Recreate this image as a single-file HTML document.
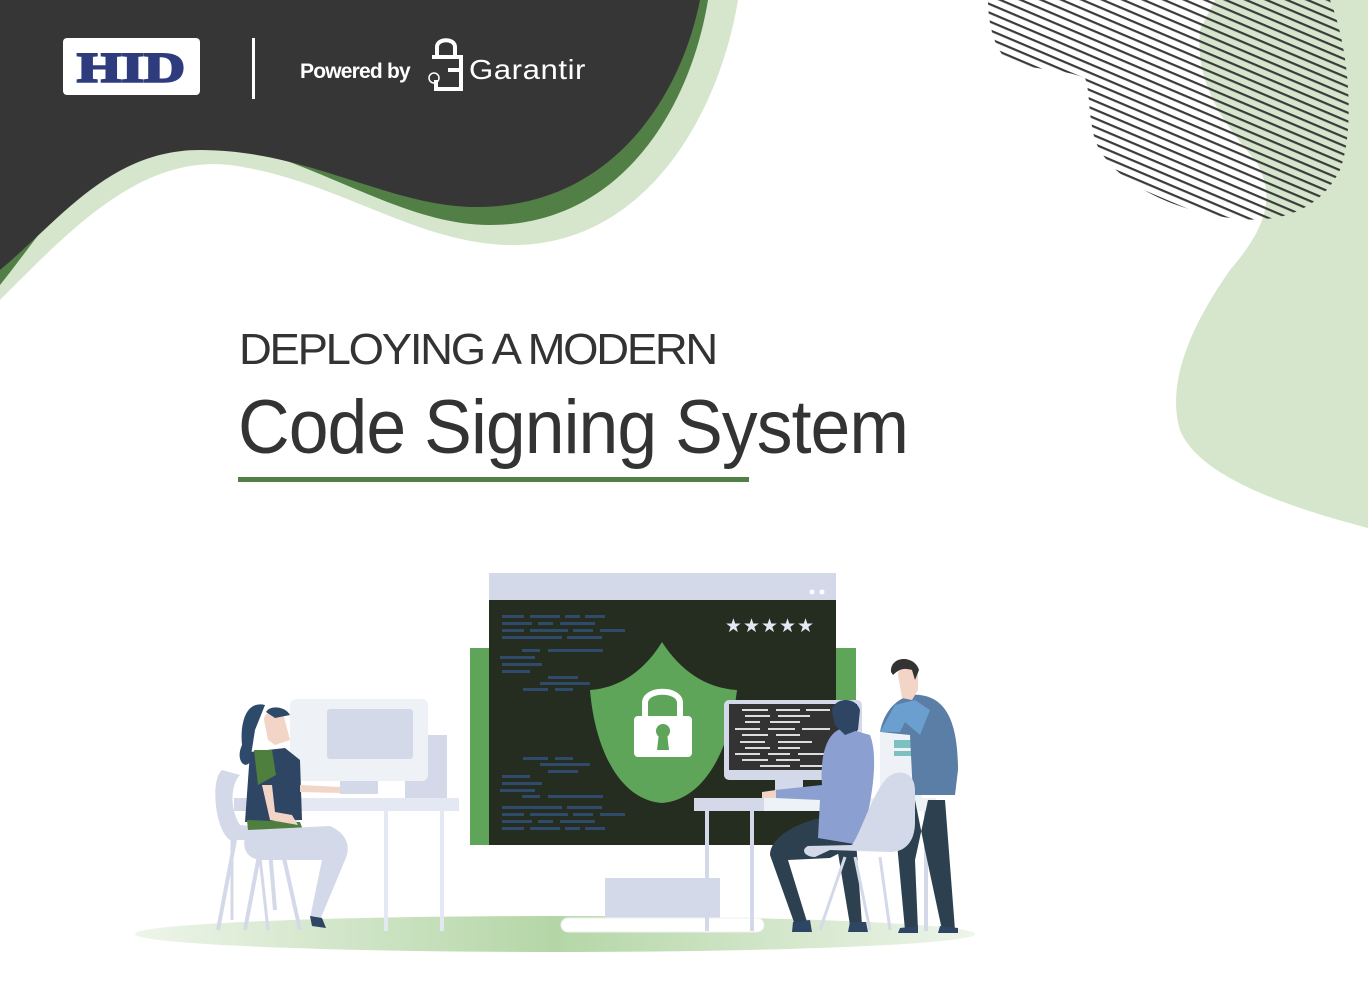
<!DOCTYPE html>
<html><head><meta charset="utf-8"><style>
html,body{margin:0;padding:0;background:#fff;}
body{width:1368px;height:991px;overflow:hidden;position:relative;font-family:"Liberation Sans",sans-serif;}
svg{position:absolute;left:0;top:0;}
</style></head><body>
<svg width="1368" height="991" viewBox="0 0 1368 991" xmlns="http://www.w3.org/2000/svg">
<defs>
<pattern id="hatch" patternUnits="userSpaceOnUse" width="8" height="8" patternTransform="rotate(23)">
<rect width="8" height="8" fill="none"/><rect y="0" width="8" height="2.2" fill="#3a3a3a"/>
</pattern>
<linearGradient id="floor" x1="0" x2="1">
<stop offset="0" stop-color="#eef5ea"/><stop offset="0.5" stop-color="#b4d6a6"/><stop offset="1" stop-color="#eef5ea"/>
</linearGradient>
</defs>
<!-- top-left dark wave -->
<path d="M0,0 L738,0 C720,110 650,240 520,245 C420,248 340,180 230,165 C140,155 70,230 0,300 Z" fill="#d6e6cc"/>
<path d="M0,0 L708,0 C690,110 620,225 490,225 C400,225 320,160 200,135 C110,120 60,210 0,285 Z" fill="#527f45"/>
<path d="M0,0 L700,0 C680,100 610,205 480,207 C390,208 310,150 200,150 C110,150 60,220 0,270 Z" fill="#363636"/>
<!-- HID logo -->
<rect x="63" y="38" width="137" height="57" rx="4" fill="#fff"/>
<text x="131" y="82" text-anchor="middle" font-family="Liberation Serif,serif" font-weight="bold" font-size="42" fill="#2e3c7e" stroke="#2e3c7e" stroke-width="2" textLength="108" lengthAdjust="spacingAndGlyphs">HID</text>
<rect x="252" y="38" width="3" height="61" fill="#fff"/>
<text x="300" y="78" font-family="Liberation Sans,sans-serif" font-weight="bold" font-size="21" fill="#fff" letter-spacing="-0.8">Powered by</text>
<!-- garantir lock icon -->
<path d="M437,57 L437,47 C437,38 455,38 455,47 L455,57" fill="none" stroke="#fff" stroke-width="4"/>
<path d="M432,57 L461,57 L461,89 L436,89 L436,80" fill="none" stroke="#fff" stroke-width="4"/>
<path d="M448,70 L461,70" stroke="#fff" stroke-width="4"/>
<circle cx="434" cy="78" r="5" fill="none" stroke="#fff" stroke-width="1.5"/>
<text x="469" y="79" font-family="Liberation Sans,sans-serif" font-size="28" fill="#fff" letter-spacing="0.5" textLength="117" lengthAdjust="spacingAndGlyphs">Garantir</text>
<!-- right green blob -->
<path d="M1215,0 L1368,0 L1368,528 C1300,510 1200,480 1180,430 C1165,380 1195,320 1230,270 C1260,235 1280,200 1255,160 C1220,120 1195,80 1200,30 Z" fill="#d6e6cc"/>
<!-- hatch blob -->
<path d="M988,0 L1330,0 C1350,50 1355,130 1340,170 C1320,210 1280,225 1230,218 C1170,210 1110,180 1095,140 C1088,115 1090,90 1085,78 C1060,68 1030,70 1010,62 C995,52 988,25 988,0 Z" fill="url(#hatch)"/>
<!-- title -->
<text x="239" y="364" font-family="Liberation Sans,sans-serif" font-size="44" fill="#333" letter-spacing="-2.2" textLength="477" lengthAdjust="spacingAndGlyphs">DEPLOYING A MODERN</text>
<text x="238" y="453" font-family="Liberation Sans,sans-serif" font-size="76" fill="#333" letter-spacing="-1" textLength="670" lengthAdjust="spacingAndGlyphs">Code Signing System</text>
<rect x="238" y="477" width="511" height="5" fill="#527f45"/>
<!-- floor -->
<ellipse cx="555" cy="934" rx="420" ry="18" fill="url(#floor)"/>
<!-- big screen -->
<rect x="470" y="648" width="386" height="197" fill="#5ea459"/>
<rect x="489" y="573" width="347" height="28" fill="#d4d9ea"/>
<circle cx="812" cy="592" r="2.5" fill="#fff"/><circle cx="822" cy="592" r="2.5" fill="#fff"/>
<rect x="489" y="600" width="347" height="245" fill="#252d21"/>
<g fill="#2f4a6b">
<rect x="502" y="615" width="22" height="3"/><rect x="530" y="615" width="30" height="3"/><rect x="565" y="615" width="15" height="3"/><rect x="585" y="615" width="20" height="3"/>
<rect x="502" y="622" width="30" height="3"/><rect x="538" y="622" width="15" height="3"/><rect x="560" y="622" width="35" height="3"/>
<rect x="502" y="629" width="22" height="3"/><rect x="530" y="629" width="38" height="3"/><rect x="573" y="629" width="20" height="3"/><rect x="600" y="629" width="25" height="3"/>
<rect x="502" y="636" width="60" height="3"/><rect x="567" y="636" width="35" height="3"/>
<rect x="522" y="649" width="18" height="3"/><rect x="548" y="649" width="55" height="3"/>
<rect x="500" y="656" width="35" height="3"/><rect x="502" y="663" width="40" height="3"/><rect x="502" y="670" width="28" height="3"/>
<rect x="548" y="676" width="30" height="3"/><rect x="540" y="682" width="50" height="3"/><rect x="523" y="688" width="25" height="3"/><rect x="555" y="688" width="18" height="3"/>
<rect x="523" y="757" width="25" height="3"/><rect x="555" y="757" width="18" height="3"/><rect x="540" y="763" width="50" height="3"/><rect x="548" y="770" width="30" height="3"/>
<rect x="502" y="775" width="28" height="3"/><rect x="502" y="782" width="40" height="3"/><rect x="500" y="789" width="35" height="3"/><rect x="522" y="795" width="18" height="3"/><rect x="548" y="795" width="55" height="3"/>
<rect x="502" y="806" width="60" height="3"/><rect x="567" y="806" width="35" height="3"/>
<rect x="502" y="813" width="22" height="3"/><rect x="530" y="813" width="38" height="3"/><rect x="573" y="813" width="20" height="3"/><rect x="600" y="813" width="25" height="3"/>
<rect x="502" y="820" width="30" height="3"/><rect x="538" y="820" width="15" height="3"/><rect x="560" y="820" width="35" height="3"/>
<rect x="502" y="827" width="22" height="3"/><rect x="530" y="827" width="30" height="3"/><rect x="565" y="827" width="15" height="3"/><rect x="585" y="827" width="20" height="3"/>
</g>
<text x="770" y="632" text-anchor="middle" font-size="19" fill="#e4e8f2" letter-spacing="1">★★★★★</text>
<!-- shield -->
<path d="M662,642 C645,670 620,688 590,690 C595,750 620,800 662,803 C704,800 730,750 737,690 C705,688 680,670 662,642 Z" fill="#5ea459"/>
<path d="M645,718 L645,703 C645,688 680,688 680,703 L680,718" fill="none" stroke="#fff" stroke-width="6"/>
<rect x="634" y="716" width="58" height="41" rx="4" fill="#fff"/>
<circle cx="663" cy="731" r="7" fill="#5ea459"/><path d="M659,733 L667,733 L669,750 L657,750 Z" fill="#5ea459"/>
<!-- base -->
<rect x="605" y="878" width="115" height="40" fill="#d4d9ea"/>
<rect x="561" y="918" width="203" height="14" rx="7" fill="#fff" stroke="#eef2ee"/>
<!-- left monitor -->
<rect x="405" y="735" width="42" height="65" fill="#d4d9ea"/>
<rect x="290" y="699" width="138" height="82" rx="6" fill="#eef2f6"/>
<rect x="327" y="709" width="86" height="50" rx="3" fill="#d4d9ea"/>
<rect x="340" y="781" width="38" height="13" fill="#d4d9ea"/>
<!-- left desk -->
<rect x="234" y="798" width="225" height="13" fill="#e3e8f3"/>
<rect x="234" y="798" width="65" height="13" fill="#d4d9ea"/>
<rect x="384" y="811" width="4" height="120" fill="#e3e8f3"/><rect x="440" y="811" width="4" height="120" fill="#e3e8f3"/>
<!-- woman -->
<path d="M222,770 C210,780 215,830 230,840 L300,840 L300,830 L240,825 C230,810 230,785 240,775 Z" fill="#d4d9ea"/>
<path d="M235,840 L218,930 M262,840 L245,930 M280,840 L300,930" stroke="#d4d9ea" stroke-width="4"/>
<path d="M265,705 C245,700 240,725 242,745 C235,760 245,770 250,762 L255,730 Z" fill="#2e4a6b"/>
<path d="M264,720 C264,712 275,708 283,713 L290,740 L275,745 L268,740 Z" fill="#f3d5c8"/>
<path d="M266,712 C270,705 285,706 290,715 L275,718 Z" fill="#2e4a6b"/>
<path d="M250,752 L285,748 L300,760 L302,820 L245,822 Z" fill="#2e4564"/>
<path d="M247,820 L300,822 L303,830 L248,830 Z" fill="#4f7f3f"/>
<path d="M254,750 L272,750 L276,775 L258,785 Z" fill="#4f7f3f"/>
<path d="M262,785 L270,820 L298,825 L292,815 L275,812 L272,785 Z" fill="#f3d5c8"/>
<path d="M300,785 L340,787 L340,793 L300,792 Z" fill="#f3d5c8"/>
<path d="M248,830 L330,826 C350,835 350,850 345,860 L320,920 L310,918 L322,860 L260,860 C245,858 240,845 248,830 Z" fill="#d4d9ea"/>
<path d="M310,916 L322,918 L326,928 L312,926 Z" fill="#2e4564"/>
<path d="M270,850 L275,910" stroke="#d4d9ea" stroke-width="4"/>
<path d="M258,840 L268,930 M232,830 L232,920" stroke="#d4d9ea" stroke-width="3"/>
<!-- right desk -->
<rect x="694" y="798" width="242" height="13" fill="#eef2f6"/>
<rect x="694" y="798" width="70" height="13" fill="#d4d9ea"/>
<rect x="705" y="811" width="4" height="120" fill="#d4d9ea"/><rect x="750" y="811" width="4" height="120" fill="#d4d9ea"/><rect x="924" y="811" width="4" height="120" fill="#d4d9ea"/>
<!-- right monitor -->
<rect x="724" y="700" width="138" height="80" rx="5" fill="#d4d9ea"/>
<rect x="729" y="704" width="128" height="66" fill="#333"/>
<g stroke="#ddd" stroke-width="2">
<path d="M742,710 H768 M776,710 H800 M806,710 H830 M745,716 H770 M778,716 H810 M745,722 H760 M770,722 H800 M735,729 H760 M768,729 H795 M802,729 H830 M742,735 H768 M776,735 H800 M740,742 H765 M778,742 H812 M745,748 H770 M778,748 H800 M735,754 H760 M768,754 H790 M798,754 H830 M742,760 H768 M776,760 H800 M760,766 H790 M800,766 H825"/>
</g>
<rect x="775" y="780" width="28" height="18" fill="#d4d9ea"/>
<!-- tower -->
<rect x="880" y="733" width="42" height="70" fill="#eef2f6"/>
<rect x="894" y="740" width="24" height="8" fill="#7cc0c2"/><rect x="894" y="751" width="24" height="5" fill="#7cc0c2"/>
<!-- standing man -->
<path d="M893,800 L905,930 L918,930 L915,860 L928,800 Z M915,800 L945,800 L955,930 L942,930 L925,850 Z" fill="#2c4050"/>
<path d="M900,928 L918,926 L918,933 L898,933 Z M940,926 L958,928 L958,933 L938,933 Z" fill="#2e4564"/>
<path d="M880,732 C885,705 905,693 920,695 C945,698 958,720 958,770 L955,795 L913,795 L910,735 Z" fill="#5a7ea5"/>
<path d="M880,732 L895,705 L915,700 L930,710 L920,735 L905,722 L900,732 Z" fill="#6a9fd0"/>
<path d="M898,675 C898,662 915,660 918,672 L918,690 L912,700 L902,698 Z" fill="#f3d5c8"/>
<path d="M891,672 C890,655 915,655 919,670 L915,680 L912,670 C905,668 900,668 893,675 Z" fill="#333"/>
<!-- sitting man -->
<path d="M820,818 C790,825 770,840 770,855 L795,925 L808,925 L788,860 L830,858 L865,840 L860,818 Z" fill="#2c4050"/>
<path d="M835,835 L850,925 L862,925 L856,840 Z" fill="#2c4050"/>
<path d="M793,922 L810,920 L812,932 L792,932 Z M850,922 L866,922 L868,932 L848,932 Z" fill="#2e4564"/>
<path d="M845,728 C825,730 820,760 822,785 L775,790 L775,798 L820,800 L818,838 L860,845 C870,810 880,760 870,735 Z" fill="#8c9fd1"/>
<path d="M762,792 L776,790 L776,798 L762,798 Z" fill="#f3d5c8"/>
<path d="M832,712 C832,698 855,695 860,710 L858,730 L845,735 L835,725 Z" fill="#2e4564"/>
<!-- chair right (in front of man) -->
<path d="M830,850 L890,852 C905,852 915,842 915,822 L915,790 C915,770 895,768 885,780 C870,800 862,830 852,845 L808,846 C800,850 805,857 815,857 Z" fill="#d4d9ea"/>
<path d="M845,857 L820,930 M880,857 L890,930 M855,857 L870,930" stroke="#d4d9ea" stroke-width="3"/>
</svg>
</body></html>
